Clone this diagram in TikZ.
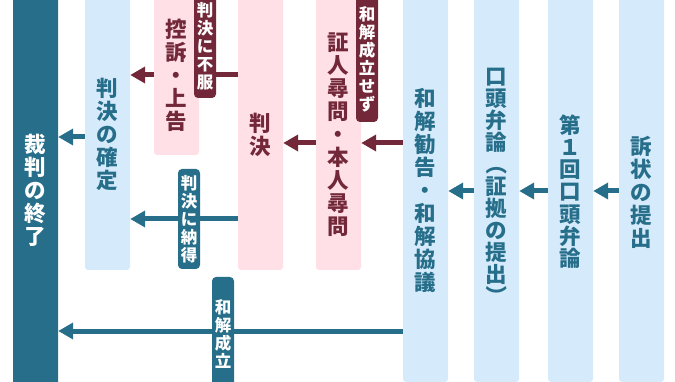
\documentclass[tikz,border=0pt]{standalone}
\usepackage{fontspec}
\newfontfamily\jp{Noto Sans CJK JP}
\usetikzlibrary{arrows.meta}
\definecolor{tealc}{HTML}{266E89}
\definecolor{redc}{HTML}{722838}
\definecolor{lblue}{HTML}{D5EBFC}
\definecolor{lpink}{HTML}{FFE0E6}
\newcommand\vpo{\rotatebox[origin=c]{-90}{（}}
\newcommand\vpc{\rotatebox[origin=c]{-90}{）}}
\begin{document}
\begin{tikzpicture}[x=1pt,y=-1pt,
  box/.style={rectangle, rounded corners=3pt, minimum width=45pt, inner sep=0pt, draw=none},
  bbox/.style={box, fill=lblue},
  pbox/.style={box, fill=lpink},
  dbox/.style={box, fill=tealc},
  txt/.style={inner sep=0pt, align=center, font=\jp\bfseries\fontsize{21.5}{23}\selectfont},
  lab/.style={rectangle, rounded corners=4pt, minimum width=22pt, inner sep=0pt, align=center, text=white, font=\jp\bfseries\fontsize{16.5}{18}\selectfont},
  arr/.style={line width=5pt, -{Triangle[length=15pt,width=16pt]}},
  seg/.style={line width=5pt}]
\useasboundingbox (0,0) rectangle (675,382);
\clip (0,0) rectangle (675,382);
% boxes
\node[dbox, minimum height=396pt] (owari) at (35.5,190) {};
\node[bbox, minimum height=276pt] (kakutei) at (107.5,132) {};
\node[pbox, minimum height=161pt] (koso) at (176.5,74.5) {};
\node[pbox, minimum height=276pt] (hanketsu) at (260.5,132) {};
\node[pbox, minimum height=276pt] (jinmon) at (338.5,132) {};
\node[bbox, minimum height=388pt] (wakai) at (425.5,188) {};
\node[bbox, minimum height=388pt] (koto) at (496.5,188) {};
\node[bbox, minimum height=388pt] (dai1) at (570.5,188) {};
\node[bbox, minimum height=388pt] (sojo) at (641.5,188) {};
% texts
\node[txt, text=white] (t-owari) at (35.5,190) {裁\\判\\の\\終\\了};
\node[txt, text=tealc] (t-kakutei) at (107.5,134) {判\\決\\の\\確\\定};
\node[txt, text=redc] (t-koso) at (176.5,75) {控\\訴\\・\\上\\告};
\node[txt, text=redc] (t-hanketsu) at (260.5,135) {判\\決};
\node[txt, text=redc] (t-jinmon) at (338.5,135) {証\\人\\尋\\問\\・\\本\\人\\尋\\問};
\node[txt, text=tealc] (t-wakai) at (425.5,190) {和\\解\\勧\\告\\・\\和\\解\\協\\議};
\node[txt, text=tealc, font=\jp\bfseries\fontsize{21.5}{22}\selectfont] (t-koto) at (496.5,188) {口\\頭\\弁\\論\\\vpo\\証\\拠\\の\\提\\出\\\vpc};
\node[txt, text=tealc, font=\jp\bfseries\fontsize{21.5}{22.2}\selectfont] (t-dai1) at (570.5,191.5) {第\\１\\回\\口\\頭\\弁\\論};
\node[txt, text=tealc] (t-sojo) at (641.5,192) {訴\\状\\の\\提\\出};
% levels
\coordinate (y75) at (0,75);
\coordinate (y137) at (0,137);
\coordinate (y143) at (0,143);
\coordinate (y191) at (0,191);
\coordinate (y219) at (0,219);
\coordinate (y331) at (0,331);
% connectors
\draw[seg, redc] (hanketsu.west |- y75) -- (koso.east |- y75);
\draw[arr, redc] (koso.west |- y75) -- (kakutei.east |- y75);
\draw[arr, tealc] (hanketsu.west |- y219) -- (kakutei.east |- y219);
\draw[arr, tealc] (kakutei.west |- y137) -- (owari.east |- y137);
\draw[arr, tealc] (wakai.west |- y331) -- (owari.east |- y331);
\draw[arr, redc] (jinmon.west |- y143) -- (hanketsu.east |- y143);
\draw[arr, redc] (wakai.west |- y143) -- (jinmon.east |- y143);
\draw[arr, tealc] (koto.west |- y191) -- (wakai.east |- y191);
\draw[arr, tealc] (dai1.west |- y191) -- (koto.east |- y191);
\draw[arr, tealc] (sojo.west |- y191) -- (dai1.east |- y191);
% labels
\node[lab, fill=redc, minimum height=104pt] (l-fufuku) at (205,46) {判\\決\\に\\不\\服};
\node[lab, fill=tealc, minimum height=100pt] (l-nattoku) at (189,219) {判\\決\\に\\納\\得};
\node[lab, fill=tealc, minimum height=113pt] (l-seiritsu) at (223,333.5) {和\\解\\成\\立};
\node[lab, fill=redc, minimum height=126pt] (l-sezu) at (367,59) {和\\解\\成\\立\\せ\\ず};
\end{tikzpicture}
\end{document}
